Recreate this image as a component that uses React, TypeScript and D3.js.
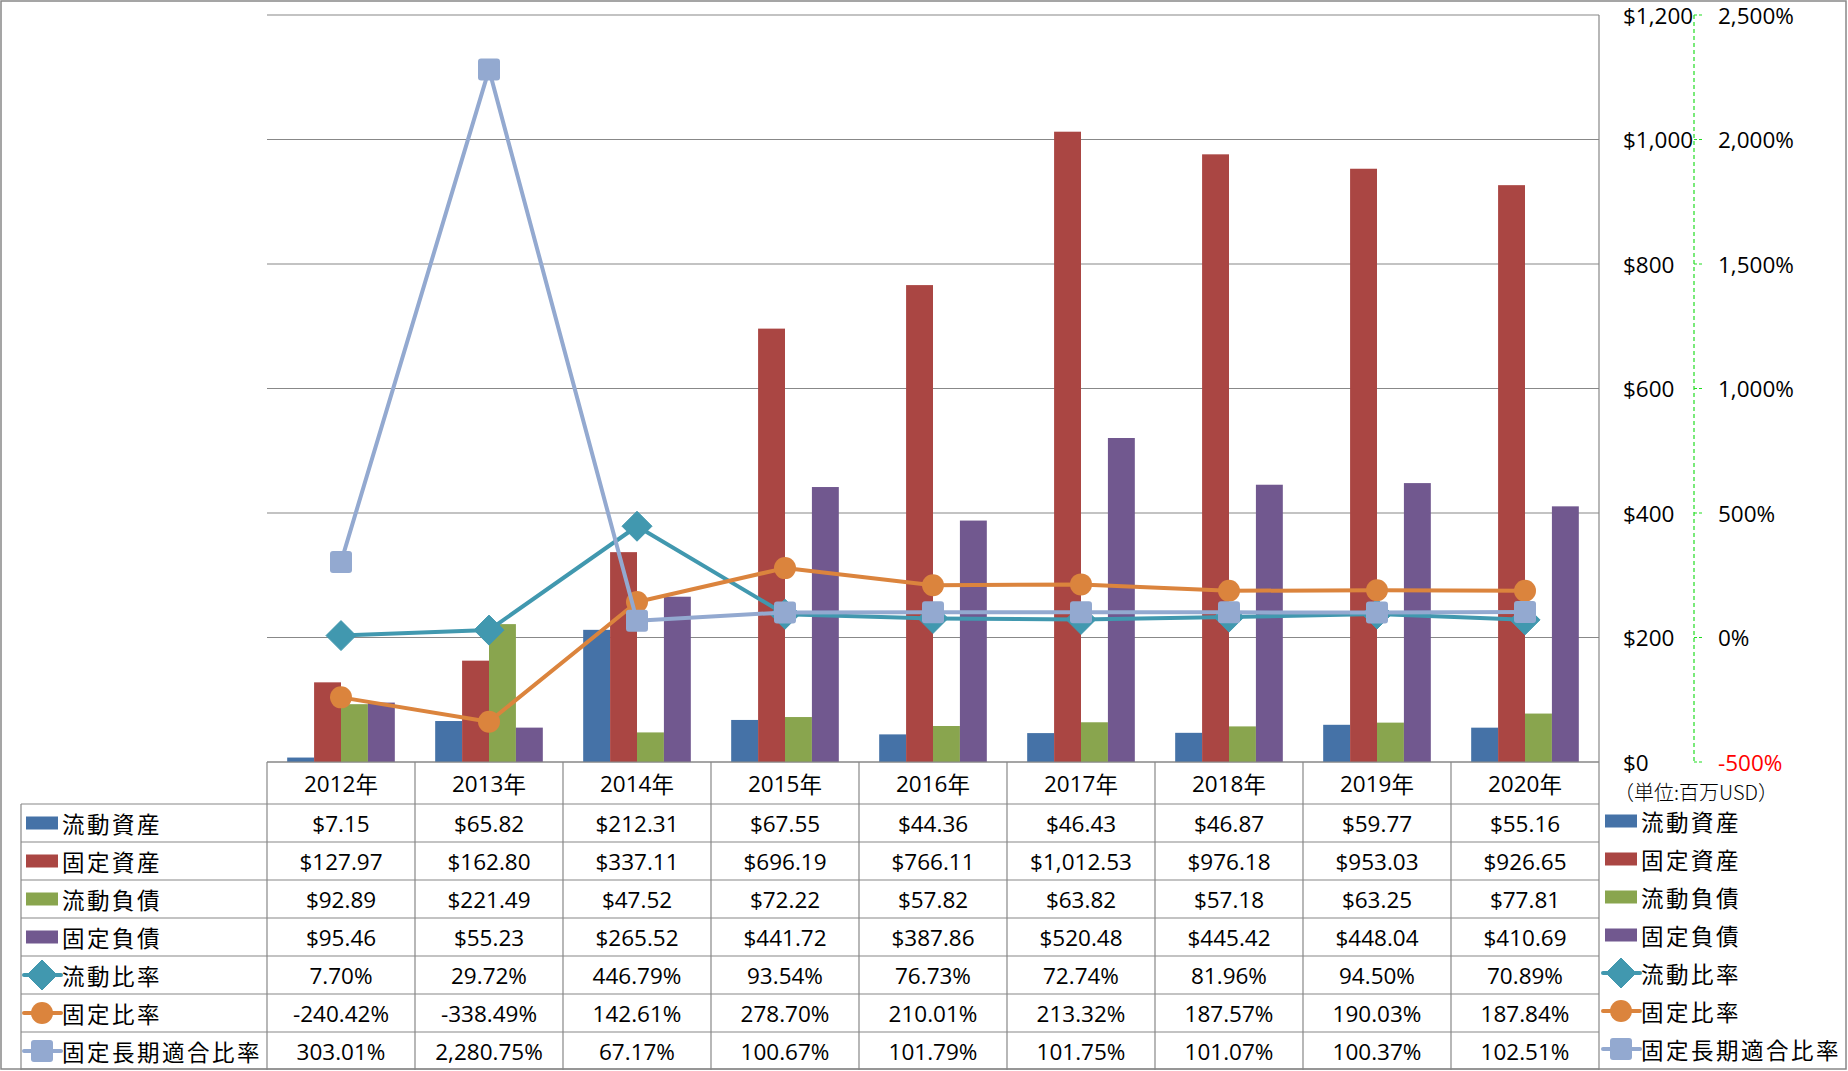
import React from "react";
import * as d3 from "d3";

const years = ["2012年", "2013年", "2014年", "2015年", "2016年", "2017年", "2018年", "2019年", "2020年"];
const currentAssets = [7.15, 65.82, 212.31, 67.55, 44.36, 46.43, 46.87, 59.77, 55.16];
const fixedAssets = [127.97, 162.8, 337.11, 696.19, 766.11, 1012.53, 976.18, 953.03, 926.65];
const currentLiab = [92.89, 221.49, 47.52, 72.22, 57.82, 63.82, 57.18, 63.25, 77.81];
const fixedLiab = [95.46, 55.23, 265.52, 441.72, 387.86, 520.48, 445.42, 448.04, 410.69];
const currentRatio = [7.7, 29.72, 446.79, 93.54, 76.73, 72.74, 81.96, 94.5, 70.89];
const fixedRatio = [-240.42, -338.49, 142.61, 278.7, 210.01, 213.32, 187.57, 190.03, 187.84];
const fixedLongRatio = [303.01, 2280.75, 67.17, 100.67, 101.79, 101.75, 101.07, 100.37, 102.51];
const leftTicks = [0, 200, 400, 600, 800, 1000, 1200];
const rightTicks = [-500, 0, 500, 1000, 1500, 2000, 2500];

const barSeries = [
  { name: "流動資産", values: currentAssets, color: "#4572A7" },
  { name: "固定資産", values: fixedAssets, color: "#AA4643" },
  { name: "流動負債", values: currentLiab, color: "#89A54E" },
  { name: "固定負債", values: fixedLiab, color: "#71588F" },
];
const lineSeries = [
  { name: "流動比率", values: currentRatio, color: "#4198AF", marker: "diamond" },
  { name: "固定比率", values: fixedRatio, color: "#DB843D", marker: "circle" },
  { name: "固定長期適合比率", values: fixedLongRatio, color: "#93A9D0", marker: "square" },
];

const W = 1848, H = 1071;
const PL = 267, PR = 1599, PT = 15, PB = 762;
const ROW0 = 804, ROWH = 38;
const GRID = "#888888";
const NUM_FONT = "'Open Sans', 'Noto Sans CJK JP', sans-serif";
const CJK_FONT = "'Noto Sans CJK JP', sans-serif";
const NUM_SIZE = 22.5;

const fixMinus = (s: string) => s.replace(/\u2212/g, "-");
const fmtMoney = (v: number) => fixMinus("$" + d3.format(",.2f")(v));
const fmtPct = (v: number) => fixMinus(d3.format(",.2f")(v) + "%");

function Marker({ type, x, y, color }: { type: string; x: number; y: number; color: string }) {
  if (type === "diamond") {
    const s = 15;
    return <path d={`M${x},${y - s}L${x + s},${y}L${x},${y + s}L${x - s},${y}Z`} fill={color} stroke={color} strokeWidth={1} strokeLinejoin="round" />;
  }
  if (type === "circle") return <circle cx={x} cy={y} r={11} fill={color} />;
  return <rect x={x - 11} y={y - 11} width={22} height={22} rx={3} fill={color} />;
}

export default function App() {
  const x = d3.scaleBand<string>().domain(years).range([PL, PR]).padding(0);
  const bw = x.bandwidth();
  const inner = d3.scaleBand<string>().domain(barSeries.map((s) => s.name)).range([-bw / 2 + bw * 0.75 / 5.5, bw / 2 - bw * 0.75 / 5.5]).padding(0);
  const yL = d3.scaleLinear().domain([0, 1200]).range([PB, PT]);
  const yR = d3.scaleLinear().domain([-500, 2500]).range([PB, PT]);
  const cx = (c: string) => (x(c) as number) + bw / 2;

  const rowLabels = [
    ...barSeries.map((s) => ({ name: s.name, kind: "bar", color: s.color, marker: "", texts: s.values.map(fmtMoney) })),
    ...lineSeries.map((s) => ({ name: s.name, kind: "line", color: s.color, marker: s.marker, texts: s.values.map(fmtPct) })),
  ];

  const legendItem = (r: any, x0: number, yc: number) => (
    <g>
      {r.kind === "bar" ? (
        <rect x={x0} y={yc - 6.5} width={32} height={13} fill={r.color} />
      ) : (
        <g>
          <line x1={x0 - 2} x2={x0 + 35} y1={yc} y2={yc} stroke={r.color} strokeWidth={4} strokeLinecap="round" />
          <Marker type={r.marker} x={x0 + 16} y={yc} color={r.color} />
        </g>
      )}
      <text x={x0 + 36} y={yc} dominantBaseline="central" fontFamily={CJK_FONT} fontSize={22.5} letterSpacing={2.5} fill="#000">{r.name}</text>
    </g>
  );

  return (
    <svg width={W} height={H} style={{ display: "block", position: "absolute", left: 0, top: 0 }}>
      <rect x={1} y={1} width={W - 3} height={H - 3} fill="#fff" stroke={GRID} strokeWidth={1.5} />
      {leftTicks.map((t) => (
        <line key={t} x1={PL} x2={PR} y1={yL(t)} y2={yL(t)} stroke={GRID} strokeWidth={1.2} />
      ))}
      <line x1={PR} x2={PR} y1={PT} y2={ROW0 + ROWH * 7} stroke={GRID} strokeWidth={1.2} />
      {barSeries.map((s) =>
        years.map((c, i) => (
          <rect key={s.name + c} x={cx(c) + (inner(s.name) as number)} width={inner.bandwidth()} y={yL(s.values[i])} height={PB - yL(s.values[i])} fill={s.color} />
        ))
      )}
      {lineSeries.map((s) => {
        const line = d3.line<number>().x((_, i) => cx(years[i])).y((v) => yR(v));
        return (
          <g key={s.name}>
            <path d={line(s.values) || ""} fill="none" stroke={s.color} strokeWidth={4} strokeLinejoin="round" />
            {s.values.map((v, i) => (
              <Marker key={i} type={s.marker} x={cx(years[i])} y={yR(v)} color={s.color} />
            ))}
          </g>
        );
      })}
      {leftTicks.map((t) => (
        <text key={t} x={1623} y={yL(t)} dominantBaseline="central" fontFamily={NUM_FONT} fontSize={NUM_SIZE} fill="#000">{"$" + d3.format(",")(t)}</text>
      ))}
      <line x1={1694} x2={1694} y1={PT} y2={PB} stroke="#22dd22" strokeWidth={1.2} strokeDasharray="4,3" />
      {rightTicks.map((t) => (
        <g key={t}>
          <line x1={1694} x2={1703} y1={yR(t)} y2={yR(t)} stroke="#22dd22" strokeWidth={1.2} strokeDasharray="3,2" />
          <text x={1718} y={yR(t)} dominantBaseline="central" fontFamily={NUM_FONT} fontSize={NUM_SIZE} fill={t < 0 ? "#ff0000" : "#000"}>{fixMinus(d3.format(",")(t)) + "%"}</text>
        </g>
      ))}
      <text x={1614} y={791} dominantBaseline="central" fontFamily={CJK_FONT} fontSize={20} fontWeight={300} fill="#000">（単位:百万USD）</text>
      <g>
        {d3.range(0, 8).map((r) => (
          <line key={r} x1={r === 0 ? PL : 21} x2={PR} y1={r === 0 ? PB : ROW0 + ROWH * (r - 1)} y2={r === 0 ? PB : ROW0 + ROWH * (r - 1)} stroke={GRID} strokeWidth={1.2} />
        ))}
        <line x1={21} x2={PR} y1={ROW0 + ROWH * 7 - 1} y2={ROW0 + ROWH * 7 - 1} stroke={GRID} strokeWidth={1.2} />
        <line x1={21} x2={21} y1={ROW0} y2={ROW0 + ROWH * 7} stroke={GRID} strokeWidth={1.2} />
        {years.map((c) => (
          <line key={c} x1={x(c)} x2={x(c)} y1={PB} y2={ROW0 + ROWH * 7} stroke={GRID} strokeWidth={1.2} />
        ))}
        {years.map((c) => (
          <text key={c} x={cx(c)} y={(PB + ROW0) / 2} textAnchor="middle" dominantBaseline="central" fontFamily={NUM_FONT} fontSize={NUM_SIZE} fill="#000">
            {c.replace("年", "")}
            <tspan fontFamily={CJK_FONT} fontSize={NUM_SIZE}>年</tspan>
          </text>
        ))}
        {rowLabels.map((r, ri) => {
          const yc = ROW0 + ROWH * ri + ROWH / 2;
          return (
            <g key={r.name}>
              {legendItem(r, 26, yc)}
              {r.texts.map((t, i) => (
                <text key={i} x={cx(years[i])} y={yc} textAnchor="middle" dominantBaseline="central" fontFamily={NUM_FONT} fontSize={NUM_SIZE} fill="#000">{t}</text>
              ))}
              {legendItem(r, 1605, yc - 2)}
            </g>
          );
        })}
      </g>
    </svg>
  );
}
